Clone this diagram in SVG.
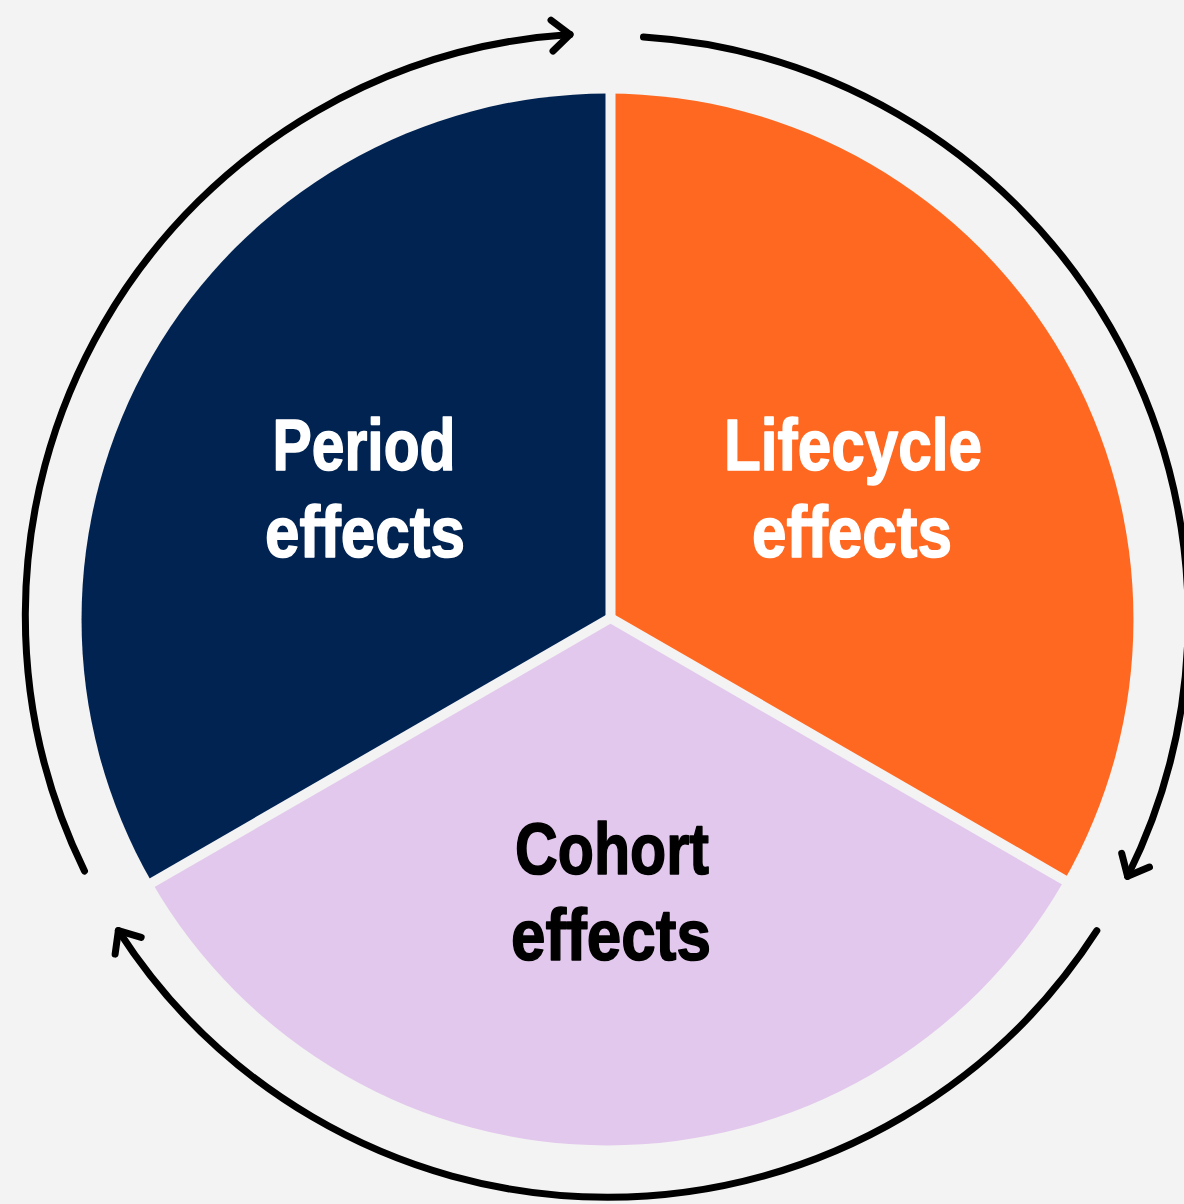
<svg xmlns="http://www.w3.org/2000/svg" width="1184" height="1204" viewBox="0 0 1184 1204">
<style>
.lbl{font-family:"Liberation Sans",Arial,sans-serif;font-weight:bold;font-size:73px;text-anchor:middle;stroke-width:1.6;stroke-linejoin:round}
.w{fill:#FFFFFF;stroke:#FFFFFF}
.k{fill:#000000;stroke:#000000}
.arc{fill:none;stroke:#000;stroke-width:7;stroke-linecap:round}
.sep{stroke:#F3F3F3;stroke-width:10;fill:none}
</style>
<defs>
<marker id="chev" markerUnits="userSpaceOnUse" markerWidth="60" markerHeight="60" refX="0" refY="0" viewBox="-30 -30 60 60" orient="auto" overflow="visible">
<path d="M-18,-15.5 L0,0 L-18,15.5" fill="none" stroke="#000" stroke-width="7" stroke-linecap="round" stroke-linejoin="round"/>
</marker>
</defs>
<rect width="1184" height="1204" fill="#F3F3F3"/>
<g id="period">
<path d="M607.5,619.5 L152,882.5 A526,526 0 0 1 607.5,93.5 Z" fill="#002352"/>
<text class="lbl w" x="364" y="470" textLength="183" lengthAdjust="spacingAndGlyphs">Period</text>
<text class="lbl w" x="365" y="557" textLength="200" lengthAdjust="spacingAndGlyphs">effects</text>
</g>
<g id="lifecycle">
<path d="M607.5,619.5 L607.5,93.5 A526,526 0 0 1 1063,882.5 Z" fill="#FF6820"/>
<text class="lbl w" x="853" y="470" textLength="258" lengthAdjust="spacingAndGlyphs">Lifecycle</text>
<text class="lbl w" x="852" y="557" textLength="200" lengthAdjust="spacingAndGlyphs">effects</text>
</g>
<g id="cohort">
<path d="M607.5,619.5 L1063,882.5 A526,526 0 0 1 152,882.5 Z" fill="#E2C8EC"/>
<text class="lbl k" x="612" y="874" textLength="194" lengthAdjust="spacingAndGlyphs">Cohort</text>
<text class="lbl k" x="611" y="960" textLength="200" lengthAdjust="spacingAndGlyphs">effects</text>
</g>
<g id="separators">
<line class="sep" x1="610.5" y1="618" x2="610.5" y2="80"/>
<line class="sep" x1="610.5" y1="618" x2="142.9" y2="888"/>
<line class="sep" x1="610.5" y1="618" x2="1078.1" y2="888"/>
</g>
<g id="connectors">
<path class="arc" d="M84.5,871 A582,582 0 0 1 570,34.5" marker-end="url(#chev)"/>
<path class="arc" d="M643.5,37 A582,582 0 0 1 1127.6,876.3" marker-end="url(#chev)"/>
<path class="arc" d="M1096.8,930.7 A582,582 0 0 1 118.4,930.6" marker-end="url(#chev)"/>
</g>
</svg>
